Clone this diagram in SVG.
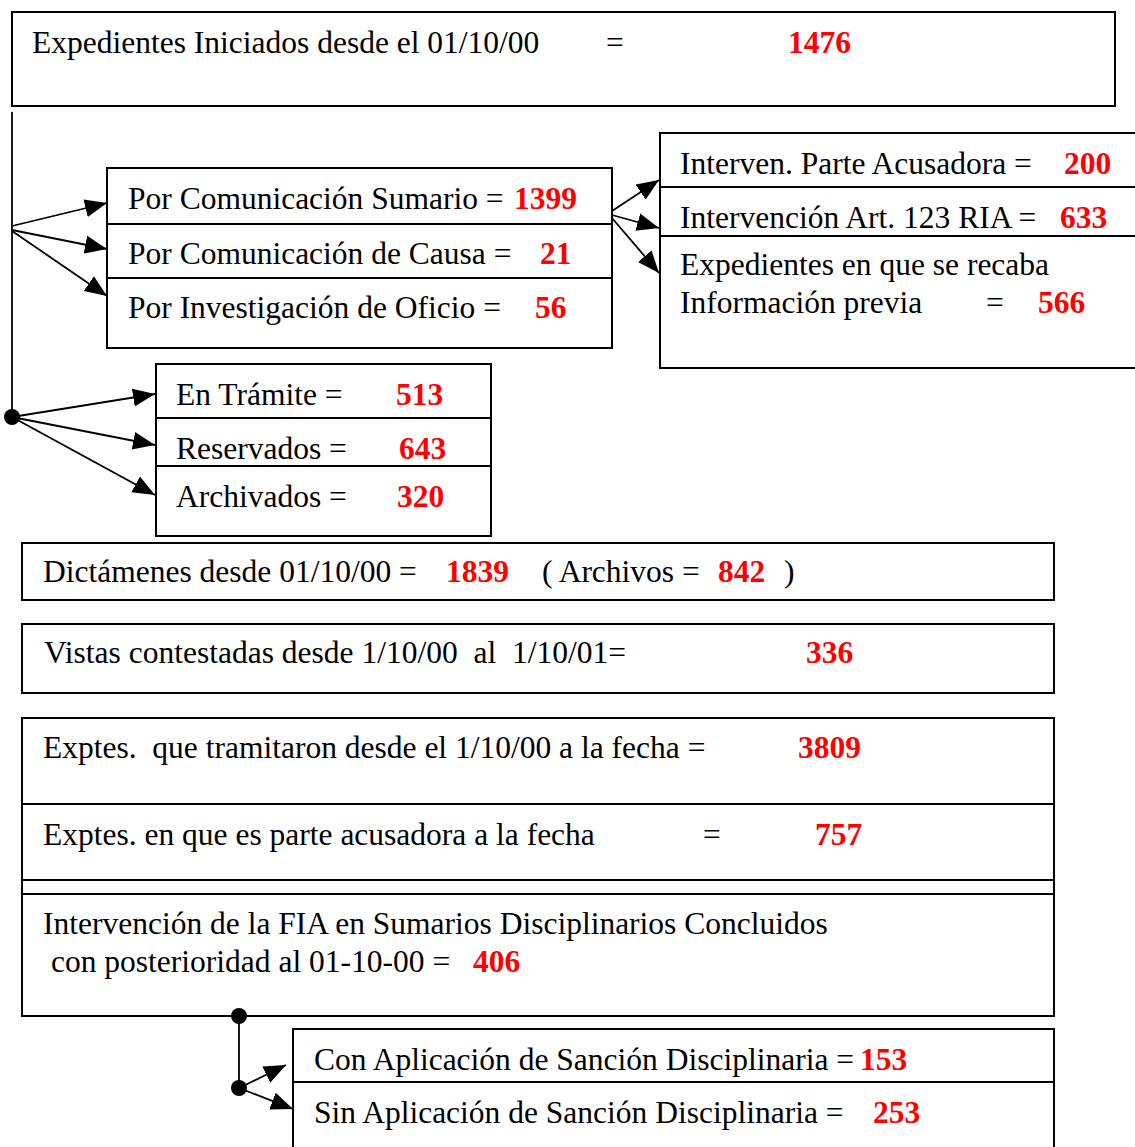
<svg xmlns="http://www.w3.org/2000/svg" width="1135" height="1147" viewBox="0 0 1135 1147">
<defs>
<marker id="ah" markerUnits="userSpaceOnUse" markerWidth="24" markerHeight="20" refX="22" refY="10" orient="auto" viewBox="0 0 24 20">
<path d="M0,1 L22,10 L0,19 Z" fill="#000"/>
</marker>
</defs>
<style>
.box{fill:#fff;stroke:#000;stroke-width:2}
.div{stroke:#000;stroke-width:2}
.t{font-family:"Liberation Serif","Times New Roman",serif;font-size:31.5px;fill:#000}
.n{font-family:"Liberation Serif","Times New Roman",serif;font-size:31.5px;font-weight:bold;fill:#ff0000}
.c{stroke:#000;stroke-width:1.8;fill:none}
.a{stroke:#000;stroke-width:1.8;fill:none;marker-end:url(#ah)}
.dot{fill:#000}
</style>
<rect width="1135" height="1147" fill="#fff"/>

<g id="n-iniciados">
<rect class="box" x="12" y="12" width="1103" height="94"/>
<text class="t" x="32" y="53">Expedientes Iniciados desde el 01/10/00</text>
<text class="t" x="606" y="53">=</text>
<text class="n" x="788" y="53">1476</text>
</g>

<g id="n-por">
<rect class="box" x="107" y="168" width="505" height="180"/>
<line class="div" x1="107" y1="224" x2="612" y2="224"/>
<line class="div" x1="107" y1="278" x2="612" y2="278"/>
<text class="t" x="128" y="209">Por Comunicación Sumario =</text>
<text class="n" x="514" y="209">1399</text>
<text class="t" x="128" y="264">Por Comunicación de Causa =</text>
<text class="n" x="540" y="264">21</text>
<text class="t" x="128" y="318">Por Investigación de Oficio =</text>
<text class="n" x="535" y="318">56</text>
</g>

<g id="n-interv">
<rect class="box" x="660" y="133" width="480" height="235"/>
<line class="div" x1="660" y1="187" x2="1135" y2="187"/>
<line class="div" x1="660" y1="236" x2="1135" y2="236"/>
<text class="t" x="680" y="174">Interven. Parte Acusadora =</text>
<text class="n" x="1064" y="174">200</text>
<text class="t" x="680" y="228">Intervención Art. 123 RIA =</text>
<text class="n" x="1060" y="228">633</text>
<text class="t" x="680" y="275">Expedientes en que se recaba</text>
<text class="t" x="680" y="313">Información previa</text>
<text class="t" x="986" y="313">=</text>
<text class="n" x="1038" y="313">566</text>
</g>

<g id="n-estado">
<rect class="box" x="156" y="364" width="335" height="172"/>
<line class="div" x1="156" y1="418" x2="491" y2="418"/>
<line class="div" x1="156" y1="466" x2="491" y2="466"/>
<text class="t" x="176" y="405">En Trámite =</text>
<text class="n" x="396" y="405">513</text>
<text class="t" x="176" y="459">Reservados =</text>
<text class="n" x="399" y="459">643</text>
<text class="t" x="176" y="507">Archivados =</text>
<text class="n" x="397" y="507">320</text>
</g>

<g id="n-dictamenes">
<rect class="box" x="22" y="543" width="1032" height="57"/>
<text class="t" x="43" y="582">Dictámenes desde 01/10/00 =</text>
<text class="n" x="446" y="582">1839</text>
<text class="t" x="542" y="582">( Archivos =</text>
<text class="n" x="718" y="582">842</text>
<text class="t" x="784" y="582">)</text>
</g>

<g id="n-vistas">
<rect class="box" x="22" y="624" width="1032" height="69"/>
<text class="t" x="44" y="663" xml:space="preserve">Vistas contestadas desde 1/10/00  al  1/10/01=</text>
<text class="n" x="806" y="663">336</text>
</g>

<g id="n-exptes">
<rect class="box" x="22" y="718" width="1032" height="298"/>
<line class="div" x1="22" y1="804" x2="1054" y2="804"/>
<line class="div" x1="22" y1="880" x2="1054" y2="880"/>
<line class="div" x1="22" y1="894" x2="1054" y2="894"/>
<text class="t" x="43" y="758" xml:space="preserve">Exptes.  que tramitaron desde el 1/10/00 a la fecha =</text>
<text class="n" x="798" y="758">3809</text>
<text class="t" x="43" y="845">Exptes. en que es parte acusadora a la fecha</text>
<text class="t" x="703" y="845">=</text>
<text class="n" x="815" y="845">757</text>
<text class="t" x="43" y="934">Intervención de la FIA en Sumarios Disciplinarios Concluidos</text>
<text class="t" x="51" y="972">con posterioridad al 01-10-00 =</text>
<text class="n" x="473" y="972">406</text>
</g>

<g id="n-sancion">
<rect class="box" x="293" y="1029" width="761" height="125"/>
<line class="div" x1="293" y1="1082" x2="1054" y2="1082"/>
<text class="t" x="314" y="1070">Con Aplicación de Sanción Disciplinaria =</text>
<text class="n" x="860" y="1070">153</text>
<text class="t" x="314" y="1123">Sin Aplicación de Sanción Disciplinaria =</text>
<text class="n" x="873" y="1123">253</text>
</g>

<g id="connectors">
<line class="c" x1="12" y1="112" x2="12" y2="417"/>
<line class="a" x1="12" y1="226" x2="107" y2="203"/>
<line class="a" x1="12" y1="230" x2="107" y2="249"/>
<line class="a" x1="12" y1="231" x2="107" y2="296"/>
<line class="a" x1="612" y1="211" x2="659" y2="180"/>
<line class="a" x1="612" y1="215" x2="659" y2="228"/>
<line class="a" x1="612" y1="218" x2="659" y2="273"/>
<circle class="dot" cx="12" cy="417" r="8"/>
<line class="a" x1="12" y1="417" x2="155" y2="394"/>
<line class="a" x1="12" y1="417" x2="155" y2="445"/>
<line class="a" x1="12" y1="417" x2="155" y2="495"/>
<line class="c" x1="239" y1="1016" x2="239" y2="1088"/>
<circle class="dot" cx="239" cy="1016" r="8"/>
<circle class="dot" cx="239" cy="1088" r="8"/>
<line class="a" x1="239" y1="1088" x2="286" y2="1065"/>
<line class="a" x1="239" y1="1088" x2="293" y2="1109"/>
</g>
</svg>
